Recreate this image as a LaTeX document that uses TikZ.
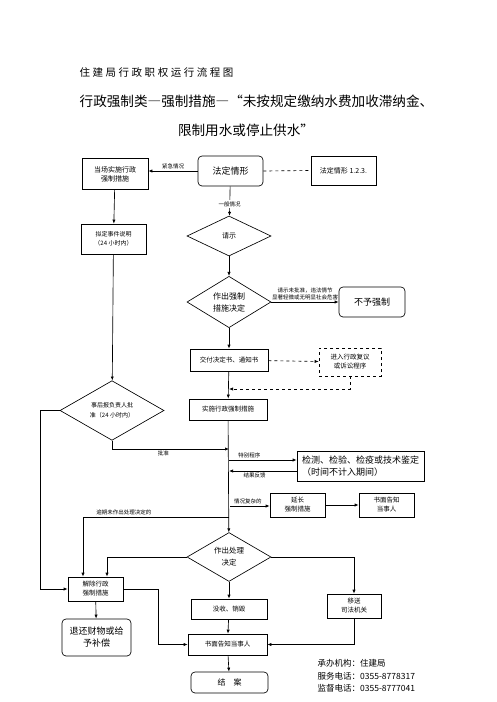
\documentclass[tikz,border=0pt]{standalone}
\usepackage{fontspec}
\setmainfont{Noto Sans CJK SC}
\newfontfamily\spaced[LetterSpace=24]{Noto Sans CJK SC}
\usetikzlibrary{positioning, arrows.meta, shapes.geometric}
\newcommand{\fsz}[2]{\fontsize{#1}{#2}\selectfont}
\newcommand{\fwdash}{{\addfontfeatures{RawFeature=+fwid}—}}
\tikzstyle{block}=[draw,fill=white,rectangle,align=center,inner sep=1pt,font=\fsz{6.5}{9}]
\tikzstyle{rblock}=[block,rounded corners=4pt]
\tikzstyle{dblock}=[block,dashed]
\tikzstyle{decision}=[draw,diamond,align=center,inner sep=0pt,font=\fsz{7}{10}]
\tikzstyle{lbl}=[font=\fsz{5.5}{7},inner sep=1.5pt]

\begin{document}
\begin{tikzpicture}[>={Latex[length=4pt,width=3.2pt]}, x=1pt, y=-1pt, line width=0.65pt]
  \useasboundingbox (0,0) rectangle (496,702);
  \node[anchor=west, font=\fsz{10.5}{12}\spaced] (title) at (76,73) {住建局行政职权运行流程图};
  \node[anchor=west, font=\fsz{13.6}{15}] (sub1) at (76,101) {行政强制类\fwdash 强制措施\fwdash “未按规定缴纳水费加收滞纳金、};
  \node[font=\fsz{13.6}{15}] (sub2) at (246,130) {限制用水或停止供水”};

  \node[rblock, minimum width=65pt, minimum height=30pt, font=\fsz{9}{11}] (fdqx) at (230.5,171) {法定情形};
  \node[block, minimum width=65pt, minimum height=29pt, font=\fsz{7}{9}] (fd123) at (343.5,170.5) {法定情形 1.2.3.};
  \node[block, minimum width=66pt, minimum height=31pt, font=\fsz{7}{9}] (dcss) at (115,174) {当场实施行政\\强制措施};
  \node[block, minimum width=65pt, minimum height=30pt, font=\fsz{6}{9}] (ndsj) at (113.5,239) {拟定事件说明\\（24 小时内）};
  \node[decision, minimum width=84pt, minimum height=40pt] (qs) at (229,236) {请示};
  \node[decision, minimum width=84pt, minimum height=48pt, font=\fsz{8}{12}] (zcqz) at (229,302) {作出强制\\措施决定};
  \node[rblock, minimum width=66pt, minimum height=30pt, font=\fsz{9}{11}] (byqz) at (372,302) {不予强制};
  \node[block, minimum width=78pt, minimum height=22pt] (jfjd) at (229,360) {交付决定书、通知书};
  \node[dblock, minimum width=62pt, minimum height=28pt] (jrxz) at (350,362) {进入行政复议\\或诉讼程序};
  \node[block, minimum width=78pt, minimum height=21pt] (ssxz) at (228,409.5) {实施行政强制措施};
  \node[decision, minimum width=104pt, minimum height=47pt, font=\fsz{6}{10}] (shbf) at (112,410.5) {事后报负责人批\\准（24 小时内）};
  \node[block, minimum width=127pt, minimum height=30pt, font=\fsz{9}{12}, align=left] (jcjd) at (360.5,466) {检测、检验、检疫或技术鉴定\\（时间不计入期间）};
  \node[block, minimum width=55pt, minimum height=24pt] (yc) at (297.5,505) {延长\\强制措施};
  \node[block, minimum width=55pt, minimum height=24pt] (smgz) at (386.5,505) {书面告知\\当事人};
  \node[decision, minimum width=84pt, minimum height=48pt, font=\fsz{7.5}{12}] (zccl) at (229,557) {作出处理\\决定};
  \node[block, minimum width=55pt, minimum height=24pt] (jcxz) at (95.5,589) {解除行政\\强制措施};
  \node[block, minimum width=76pt, minimum height=20pt] (msxh) at (229,609) {没收、销毁};
  \node[block, minimum width=54pt, minimum height=24pt] (ysjg) at (354,606) {移送\\司法机关};
  \node[rblock, minimum width=69pt, minimum height=37pt, font=\fsz{9}{12}] (thcw) at (96.5,637.5) {退还财物或给\\予补偿};
  \node[block, minimum width=79pt, minimum height=21pt] (smdsr) at (227.5,644.5) {书面告知当事人};
  \node[rblock, minimum width=77pt, minimum height=21pt, font=\fsz{8}{10}] (ja) at (229.5,682.5) {结\quad 案};

  \node[anchor=west, font=\fsz{8.5}{10}] (cb) at (314,663) {承办机构：住建局};
  \node[anchor=west, font=\fsz{8.5}{10}] (fw) at (314,676) {服务电话：0355-8778317};
  \node[anchor=west, font=\fsz{8.5}{10}] (jd) at (314,688) {监督电话：0355-8777041};

  \coordinate (fk) at (229,389);
  \coordinate (pz) at (229,449);
  \coordinate (tb) at (229,460);
  \coordinate (jg) at (229,471);
  \coordinate (qk) at (230,506);
  \coordinate (yq) at (229,517);

  \draw[->] (fdqx.west) -- node[lbl, above] {紧急情况} (fdqx.west -| dcss.east);
  \draw[dashed] (fdqx.east) -- (fd123.west);
  \draw[->] (dcss) -- (ndsj);
  \draw[->] (fdqx) -- node[lbl, fill=white, pos=0.6] {一般情况} (qs);
  \draw[->] (qs) -- (zcqz);
  \draw[->] (zcqz.east) -- node[lbl, above, align=center] {请示未批准，违法情节\\显著轻微或无明显社会危害} (byqz.west);
  \draw[->] (zcqz) -- (jfjd);
  \draw[->, dashed] (jfjd) -- (jrxz);
  \draw[->, dashed] (jrxz.south) |- (fk);
  \draw[->] (jfjd) -- (ssxz);
  \draw[->] (ndsj) -- (shbf);
  \draw[->] (shbf.south) |- node[lbl, below, pos=0.72] {批准} (pz);
  \draw[->] (shbf.west) -- ++(-19,0) |- (jcxz.west);
  \draw[->] (ssxz) -- (zccl);
  \draw[->] (tb) -- node[lbl, above, pos=0.3] {特别程序} (tb -| jcjd.west);
  \draw[->] (jg -| jcjd.west) -- node[lbl, below, pos=0.62] {结果反馈} (jg);
  \draw[->] (qk) -- node[lbl, above, pos=0.45] {情况复杂的} (qk -| yc.west);
  \draw[->] (yc) -- (smgz);
  \draw[->] (yq) -| node[lbl, above, pos=0.36] {逾期未作出处理决定的} ([xshift=-12.5pt]jcxz.north);
  \draw[->] (zccl.west) -| ([xshift=11.5pt]jcxz.north);
  \draw[->] (zccl.east) -| (ysjg.north);
  \draw[->] (zccl) -- (msxh);
  \draw[->] (msxh) -- (smdsr);
  \draw[->] (jcxz) -- (thcw);
  \draw[->] (jcxz.east) -- ++(35,0) |- (smdsr.west);
  \draw[->] (ysjg.south) |- (smdsr.east);
  \draw[->] (smdsr) -- (ja);
\end{tikzpicture}
\end{document}
